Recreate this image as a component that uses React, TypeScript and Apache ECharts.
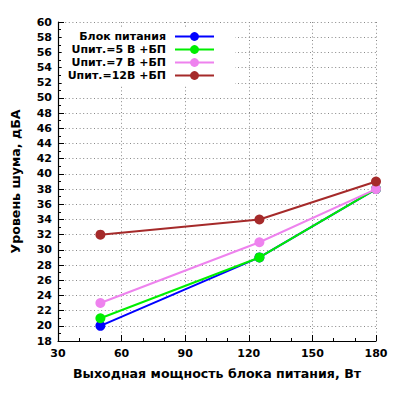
import React, { useEffect, useRef } from "react";
import * as echarts from "echarts";

const xValues = [50, 125, 180];
const seriesNames = ["Блок питания", "Uпит.=5 В +БП", "Uпит.=7 В +БП", "Uпит.=12В +БП"];
const seriesColors = ["#0000ff", "#00ee00", "#ee82ee", "#a52a2a"];
const blockValues = [20, 29, 38];
const u5Values = [21, 29, 38];
const u7Values = [23, 31, 38];
const u12Values = [32, 34, 39];
const allValues = [blockValues, u5Values, u7Values, u12Values];

const FONT = "DejaVu Sans";

export default function App() {
  const ref = useRef<HTMLDivElement>(null);
  useEffect(() => {
    if (!ref.current) return;
    const chart = echarts.init(ref.current, null, { renderer: "svg" });
    const labelStyle = { fontFamily: FONT, fontWeight: "bold" as const, fontSize: 11, color: "#000" };
    chart.setOption({
      animation: false,
      backgroundColor: "#fff",
      grid: { left: 58, right: 24, top: 22, bottom: 59, containLabel: false },
      legend: {
        orient: "vertical",
        align: "right",
        right: 165,
        top: 27,
        padding: [4, 20, 4, 6],
        backgroundColor: "#fff",
        itemWidth: 39,
        itemHeight: 11,
        itemGap: 2,
        textStyle: { ...labelStyle, lineHeight: 11, padding: [0, 4, 0, 0] },
        data: seriesNames,
        z: 10,
      },
      xAxis: {
        type: "value",
        min: 30,
        max: 180,
        interval: 30,
        name: "Выходная мощность блока питания, Вт",
        nameLocation: "middle",
        nameGap: 26,
        nameTextStyle: { ...labelStyle, fontSize: 12.6 },
        axisLine: { show: true, onZero: false, lineStyle: { color: "#000", width: 1.2 } },
        axisTick: { show: true, inside: true, length: 6, lineStyle: { color: "#000" } },
        minorTick: { show: true, splitNumber: 3, length: 3, lineStyle: { color: "#000" } },
        axisLabel: { ...labelStyle, margin: 7 },
        splitLine: { show: true, lineStyle: { color: "#888", type: [1, 2.6], width: 1 } },
      },
      yAxis: {
        type: "value",
        min: 18,
        max: 60,
        interval: 2,
        name: "Уровень шума, дБА",
        nameLocation: "middle",
        nameGap: 36,
        nameTextStyle: { ...labelStyle, fontSize: 12.6 },
        axisLine: { show: true, onZero: false, lineStyle: { color: "#000", width: 1.2 } },
        axisTick: { show: true, inside: true, length: 6, lineStyle: { color: "#000" } },
        minorTick: { show: true, splitNumber: 2, length: 3, lineStyle: { color: "#000" } },
        axisLabel: { ...labelStyle, margin: 6 },
        splitLine: { show: true, lineStyle: { color: "#888", type: [1, 2.6], width: 1 } },
      },
      series: seriesNames.map((name, i) => ({
        name,
        type: "line",
        data: xValues.map((x, j) => [x, allValues[i][j]]),
        color: seriesColors[i],
        lineStyle: { width: 2, color: seriesColors[i] },
        itemStyle: { color: seriesColors[i] },
        symbol: "circle",
        symbolSize: 10,
        z: 2 + i,
      })),
    });
    return () => chart.dispose();
  }, []);
  return <div ref={ref} style={{ width: 400, height: 400, position: "absolute", left: 0, top: 0 }} />;
}
